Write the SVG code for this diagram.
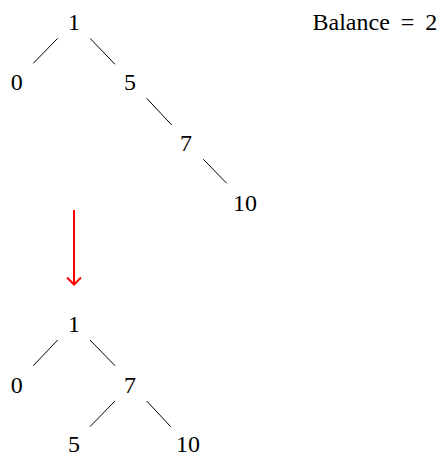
<svg xmlns="http://www.w3.org/2000/svg" width="443" height="455" viewBox="0 0 443 455">
<style>
.t{font-family:"Liberation Serif","Times New Roman",serif;font-size:24px;fill:#000;text-anchor:middle}
.e{stroke:#000;stroke-width:1}
.a{fill:none;stroke:#f00;stroke-width:2}
</style>
<rect width="443" height="455" fill="#fff"/>
<g id="connectors">
<line class="e" x1="57.7" y1="38.3" x2="33.3" y2="63.3"/>
<line class="e" x1="90" y1="38.3" x2="115" y2="64.3"/>
<line class="e" x1="146.7" y1="98.3" x2="171.7" y2="125"/>
<line class="e" x1="203.3" y1="159.3" x2="226.7" y2="183.3"/>
<line class="e" x1="57.7" y1="340" x2="33.3" y2="365.7"/>
<line class="e" x1="90" y1="340" x2="115" y2="365.7"/>
<line class="e" x1="115" y1="401" x2="90" y2="426.7"/>
<line class="e" x1="146.7" y1="401" x2="170.7" y2="426.7"/>
<g id="arrow">
<line class="a" x1="74" y1="210" x2="74" y2="285"/>
<polyline class="a" points="67,277.5 74,284.5 81,277.5"/>
</g>
</g>
<g id="t1"><text class="t" x="74" y="30">1</text></g>
<g id="t0"><text class="t" x="16.7" y="90">0</text></g>
<g id="t5"><text class="t" x="130" y="90">5</text></g>
<g id="t7"><text class="t" x="186" y="151">7</text></g>
<g id="t10"><text class="t" x="245" y="211">10</text></g>
<g id="b1"><text class="t" x="74" y="332">1</text></g>
<g id="b0"><text class="t" x="16.7" y="393">0</text></g>
<g id="b7"><text class="t" x="130" y="393">7</text></g>
<g id="b5"><text class="t" x="74" y="452">5</text></g>
<g id="b10"><text class="t" x="188" y="452">10</text></g>
<g id="balance"><text class="t" x="312.5" y="30" style="text-anchor:start;word-spacing:5px">Balance = 2</text></g>
</svg>
